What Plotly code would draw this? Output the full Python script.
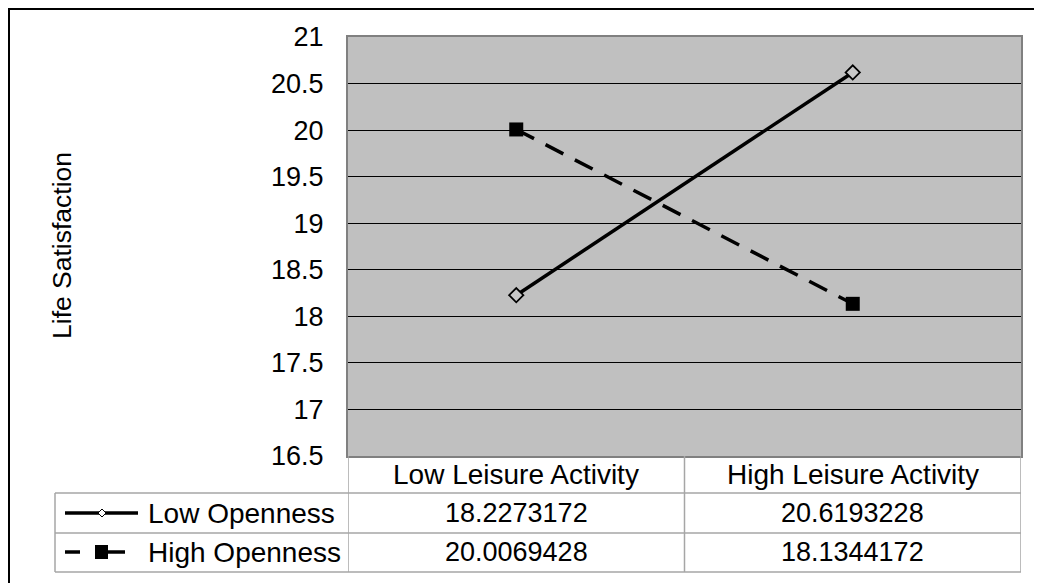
import plotly.graph_objects as go

# ---- data ----
categories = ["Low Leisure Activity", "High Leisure Activity"]
series_names = ["Low Openness", "High Openness"]
low_openness = [18.2273172, 20.6193228]
high_openness = [20.0069428, 18.1344172]
y_title = "Life Satisfaction"
y_min, y_max, y_step = 16.5, 21, 0.5

W, H = 1042, 583
FONT = "Liberation Sans, Arial, sans-serif"
FS_TICK = 27
FS_VAL = 27
FS_LABEL = 28
FS_TITLE = 26.5
OFF = 8  # page body margin: the figure is drawn 8px right/down in the window


def px(x):
    return (x - OFF) / W


def py(y):
    return 1 - (y - OFF) / H


PL, PR, PT, PB = 348, 1021, 37, 456  # plot area in window pixels
ROW_HDR, ROW1, ROW2 = 474, 513, 552
LINE_HDR, LINE1, LINE2 = 493, 533, 572
TABLE_GRAY = "#A6A6A6"

fig = go.Figure()

fig.add_trace(go.Scatter(
    x=categories, y=low_openness, mode="lines+markers", name=series_names[0],
    line=dict(color="black", width=3.5),
    marker=dict(symbol="diamond", size=11, color="#C8C8C8",
                line=dict(color="black", width=1.8)),
))
fig.add_trace(go.Scatter(
    x=categories, y=high_openness, mode="lines+markers", name=series_names[1],
    line=dict(color="black", width=3.5, dash="20px,13px"),
    marker=dict(symbol="square", size=14, color="black",
                line=dict(color="black", width=0)),
))

shapes = []


def hline(x0, x1, y, color=TABLE_GRAY, width=1.5, xref="paper"):
    shapes.append(dict(type="line", xref=xref, yref="paper",
                       x0=x0, x1=x1, y0=py(y), y1=py(y),
                       line=dict(color=color, width=width)))


def vline(x, y0, y1, color=TABLE_GRAY, width=1.5, xref="paper"):
    shapes.append(dict(type="line", xref=xref, yref="paper",
                       x0=x, x1=x, y0=py(y0), y1=py(y1),
                       line=dict(color=color, width=width)))


# data table grid
vline(-0.5, PB, LINE2, xref="x")
vline(0.5, PB, LINE2, xref="x")
vline(1.5, PB, LINE2, xref="x")
vline(px(55), LINE_HDR, LINE2)
for yy in (LINE_HDR, LINE1, LINE2):
    hline(px(55), px(PR), yy)

# legend keys in the table
hline(px(65), px(138), ROW1, color="black", width=3.5)
d = 4
shapes.append(dict(type="path", xref="paper", yref="paper",
                   path=f"M {px(102)},{py(ROW1 - d)} L {px(102 + d)},{py(ROW1)} "
                        f"L {px(102)},{py(ROW1 + d)} L {px(102 - d)},{py(ROW1)} Z",
                   fillcolor="white", line=dict(color="black", width=1)))
hline(px(65), px(80), ROW2, color="black", width=3.5)
hline(px(106), px(125), ROW2, color="black", width=3.5)
shapes.append(dict(type="rect", xref="paper", yref="paper",
                   x0=px(95), x1=px(108), y0=py(ROW2 + 7), y1=py(ROW2 - 7),
                   fillcolor="black", line=dict(width=0)))

# outer border (as close to the window corner as the figure allows)
hline(px(OFF), px(1060), OFF + 1, color="black", width=2)
vline(px(OFF + 1), OFF, 600, color="black", width=2)

annotations = []
annotations.append(dict(text=y_title, x=px(62), y=py(246), xref="paper", yref="paper",
                        xanchor="center", yanchor="middle",
                        textangle=-90, showarrow=False,
                        font=dict(size=FS_TITLE, color="black")))
for cat in categories:
    annotations.append(dict(text=cat, x=cat, y=py(ROW_HDR), xref="x", yref="paper",
                            xanchor="center", yanchor="middle",
                            showarrow=False, font=dict(size=FS_LABEL, color="black")))
for row_y, vals in ((ROW1, low_openness), (ROW2, high_openness)):
    for cat, v in zip(categories, vals):
        annotations.append(dict(text=f"{v:.7f}", x=cat, y=py(row_y), xref="x", yref="paper",
                                xanchor="center", yanchor="middle",
                                showarrow=False, font=dict(size=FS_VAL, color="black")))
for row_y, name in ((ROW1, series_names[0]), (ROW2, series_names[1])):
    annotations.append(dict(text=name, x=px(146), y=py(row_y), xref="paper", yref="paper",
                            xanchor="left", yanchor="middle",
                            showarrow=False, font=dict(size=FS_LABEL, color="black")))

fig.update_layout(
    width=W, height=H, autosize=False,
    margin=dict(l=0, r=0, t=0, b=0, pad=0, autoexpand=False),
    paper_bgcolor="white", plot_bgcolor="#C0C0C0",
    font=dict(family=FONT, size=FS_TICK, color="black"),
    showlegend=False, hovermode=False,
    shapes=shapes, annotations=annotations,
    xaxis=dict(domain=[px(PL), px(PR)], type="category", categoryorder="array",
               categoryarray=categories, range=[-0.5, 1.5], showticklabels=False,
               showgrid=False, zeroline=False, showline=True, mirror=True,
               linecolor="#808080", linewidth=2, ticks="", automargin=False),
    yaxis=dict(domain=[py(PB), py(PT)], range=[y_min, y_max], dtick=y_step, tick0=y_min,
               showgrid=True, gridcolor="black", gridwidth=1, zeroline=False,
               showline=True, mirror=True, linecolor="#808080", linewidth=2,
               ticks="", ticklabelstandoff=17, automargin=False,
               tickfont=dict(size=FS_TICK, color="black")),
)

fig.write_html("out.html")
